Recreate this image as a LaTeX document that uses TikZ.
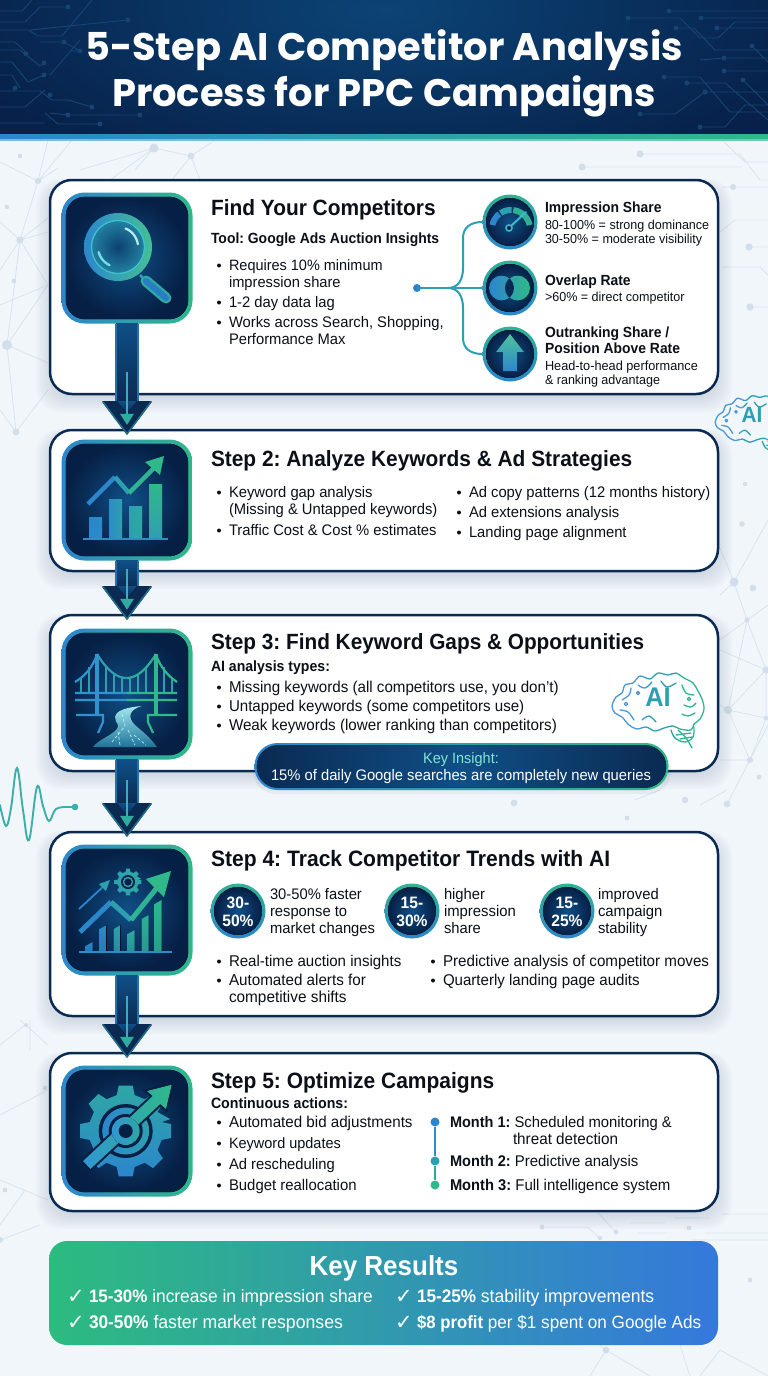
\documentclass[tikz,border=0pt]{standalone}
\usepackage{fontspec}
\setmainfont{Liberation Sans}[FakeStretch=0.965,BoldFeatures={FakeStretch=0.945}]
\newfontfamily\titlefont{Poppins}
\newfontfamily\symfont{DejaVu Sans}
\usetikzlibrary{calc,arrows.meta}
\definecolor{bgc}{HTML}{F1F6FB}
\definecolor{netc}{HTML}{DAE4ED}
\definecolor{netd}{HTML}{D2DEE9}
\definecolor{navy}{HTML}{0A2A52}
\definecolor{deep}{HTML}{061F44}
\definecolor{midb}{HTML}{0F4F86}
\definecolor{ink}{HTML}{0B1018}
\definecolor{bluec}{HTML}{2C86CC}
\definecolor{tealc}{HTML}{2E9FB0}
\definecolor{greenc}{HTML}{2FB88A}
\definecolor{cyanc}{HTML}{45D3E0}
\definecolor{hdrA}{HTML}{0B4476}
\definecolor{hdrB}{HTML}{07214A}
\definecolor{circ}{HTML}{174472}
\definecolor{insight}{HTML}{86E3D6}
\definecolor{wave}{HTML}{3CAFA8}
\definecolor{resA}{HTML}{2DBB7F}
\definecolor{resB}{HTML}{2AA0A8}
\definecolor{resC}{HTML}{3578DC}
\tikzset{
  txt/.style={anchor=base west,inner sep=0pt,outer sep=0pt,text=ink},
  ctxt/.style={anchor=base,inner sep=0pt,outer sep=0pt,text=white},
  card/.style={draw=navy,line width=2.5pt,fill=white,rounded corners=22pt,minimum width=668pt,inner sep=0pt},
  iconbox/.style={rounded corners=23pt,minimum width=131pt,minimum height=131pt,inner sep=0pt,left color=bluec,right color=greenc},
  badge/.style={circle,minimum size=55pt,inner sep=0pt,top color=greenc!80!tealc,bottom color=bluec},
  tree/.style={draw=tealc,line width=2pt},
  nets/.style={draw=netc,line width=.8pt},
  circuit/.style={draw=circ,line width=.9pt},
}
\frenchspacing
\newcounter{tc}
\newcommand\lab[4]{\stepcounter{tc}\node[txt,name=t\arabic{tc},font=\fontsize{#3}{#3}\selectfont] at ({#1},{#2+0.36*#3}) {#4};}
\newcommand\bl[4][15.3]{\fill[ink] ({#2-10},{#3+.5}) circle (2);\lab{#2}{#3}{#1}{#4}}
\newcommand\arcseg[7]{\draw[#6,line width=#7pt] plot[domain=#4:#5,samples=24] ({#1+#3*cos(\x)},{#2-#3*sin(\x)});}
\newcommand\gearpath[5]{(#1,#2) ++({#3*cos(-15)},{#3*sin(-15)}) \foreach \a in {0,45,...,315}{ -- ({#1+#4*cos(\a-#5)},{#2+#4*sin(\a-#5)}) -- ({#1+#3*cos(\a-#5*.62)},{#2+#3*sin(\a-#5*.62)}) -- ({#1+#3*cos(\a+#5*.62)},{#2+#3*sin(\a+#5*.62)}) -- ({#1+#4*cos(\a+#5)},{#2+#4*sin(\a+#5)}) } -- cycle}
\newcommand\shadowbox[4]{\foreach \i in {0,2,...,14}{\fill[navy,opacity=.016,rounded corners=24pt] ({#1-\i},{#2+6-\i*.5}) rectangle ({#3+\i},{#4+4+\i});}}
\newcommand\iconinner[1]{\fill[inner color=midb,outer color=deep,rounded corners=19pt] ([shift={(4.5,4.5)}]#1.north west) rectangle ([shift={(-4.5,-4.5)}]#1.south east);}
\newcommand\flowarrow[3]{%
  \path (#1.south) coordinate (A) (#1.south |- #2.north) ++(0,5) coordinate (T);
  \fill[top color=midb,bottom color=navy] ($(A)+(-11,0)$) rectangle ($(T)+(11,-30)$);
  \draw[draw=bluec!75!navy,line width=1.6pt] ($(A)+(-11,0)$) -- ($(T)+(-11,-31)$) ($(A)+(11,0)$) -- ($(T)+(11,-31)$);
  \draw[fill=navy,draw=navy,line width=1.5pt,line join=round] ($(T)+(-11,-32)$) -- ($(T)+(-24,-32)$) -- (T) -- ($(T)+(24,-32)$) -- ($(T)+(11,-32)$) -- cycle;
  \draw[tealc!60!navy,line width=1.4pt] ($(T)+(-24,-32)$) -- (T) -- ($(T)+(24,-32)$);
  \fill[top color=midb,bottom color=navy] ($(T)+(-10,-33)$) -- ($(T)+(10,-33)$) -- ($(T)+(0,-20)$) -- cycle;
  \draw[tealc!90!white,line width=1.6pt] ($(T)+(0,-#3)$) -- ($(T)+(0,-15)$);
  \fill[greenc!50!tealc] ($(T)+(-7,-20)$) -- ($(T)+(7,-20)$) -- ($(T)+(0,-9)$) -- cycle;
}
\newcommand\brainlines{%
  \draw plot[smooth cycle,tension=.55] coordinates {(-46,4)(-42,-5)(-36,-9)(-33,-17)(-25,-19)(-18,-26)(-8,-23)(0,-29)(10,-27)(18,-29)(26,-24)(35,-19)(40,-11)(44,-3)(46,7)(42,17)(36,22)(33,28)(22,27)(15,24)(6,26)(-3,29)(-12,25)(-21,27)(-29,23)(-36,15)(-43,11)};
  \draw plot[smooth,tension=.5] coordinates {(20,28)(28,36)(34,46)};
  \draw plot[smooth,tension=.6] coordinates {(13,28)(17,36)(27,40)(35,35)(36,25)};
  \draw (18,33)--(33,31) (22,37)--(34,35);
  \draw plot[smooth,tension=.6] coordinates {(-36,-2)(-29,-7)(-27,-14)};
  \draw plot[smooth,tension=.6] coordinates {(-20,-17)(-13,-14)(-6,-20)};
  \draw plot[smooth,tension=.6] coordinates {(3,-21)(9,-15)(18,-19)};
  \draw plot[smooth,tension=.6] coordinates {(24,-17)(28,-9)(36,-7)};
  \draw plot[smooth,tension=.6] coordinates {(-38,8)(-30,10)(-24,18)};
  \draw plot[smooth,tension=.6] coordinates {(-16,18)(-9,14)(-2,20)};
  \draw plot[smooth,tension=.6] coordinates {(26,3)(33,5)(38,1)};
  \draw plot[smooth,tension=.6] coordinates {(24,12)(30,14)(37,11)};
  \draw (-32,2) circle (1.7) (31,-3) circle (1.7) (-20,-9) circle (1.6);
}
\newcommand\brain[3]{%
  \begin{scope}[shift={(#1,#2)},scale=#3,line width=1.3pt,line join=round,line cap=round]
   \begin{scope}\clip (-60,-60) rectangle (-12,60);\begin{scope}[draw=bluec!85!white]\brainlines\end{scope}\end{scope}
   \begin{scope}\clip (-12,-60) rectangle (18,60);\begin{scope}[draw=tealc]\brainlines\end{scope}\end{scope}
   \begin{scope}\clip (18,-60) rectangle (60,60);\begin{scope}[draw=greenc!80!tealc]\brainlines\end{scope}\end{scope}
  \end{scope}}
\begin{document}
\begin{tikzpicture}[x=1pt,y=-1pt,line cap=butt]
\useasboundingbox (0,0) rectangle (768,1376);
\fill[bgc] (0,0) rectangle (768,1376);
% ---------- background network
\begin{scope}[nets]
 \draw (48,140)--(38,181)--(20,240)--(7,345)--(16,432)--(48,390);
 \draw (0,162)--(38,181)--(72,140) (38,181)--(58,168) (0,222)--(20,240)--(48,232) (20,240)--(48,285)--(0,305) (20,240)--(48,218) (7,345)--(48,285) (7,345)--(48,363) (0,410)--(16,432) (0,270)--(20,240);
 \draw (154,148)--(80,170) (154,148)--(191,156) (191,156)--(172,180) (191,156)--(215,140) (191,156)--(200,180) (154,148)--(135,170) (110,180)--(154,148);
 \draw (640,154)--(740,154)--(760,180)--(768,180) (582,167)--(742,167) (722,140)--(745,162)--(768,162) (722,187)--(768,187) (722,267)--(760,267)--(768,275) (749,247)--(768,247) (750,307)--(768,307) (720,232)--(735,220)--(768,220);
 \draw (720,548)--(734,582)--(768,520) (734,582)--(747,620)--(766,670)--(766,718)--(750,760)--(727,804) (720,595)--(734,582) (720,640)--(747,620)--(768,605) (720,650)--(766,670) (747,620)--(728,710) (766,670)--(728,710)--(766,718) (720,705)--(728,710) (720,760)--(750,760)--(728,710) (750,760)--(768,725);
 \draw (700,805)--(727,790) (635,800)--(660,790);
 % lower circuit right
 \draw (542,1227)--(587,1227)--(600,1238) (598,1213)--(616,1232) (629,1223)--(665,1223) (638,1233)--(667,1233) (674,1218)--(710,1218) (705,1233)--(768,1233) (692,1240)--(768,1240) (722,1214)--(768,1214);
 % lower left
 \draw (0,1225)--(25,1190) (0,1240)--(40,1225) (0,1180)--(48,1200) (48,1090)--(0,1115) (20,1020)--(48,1045) (30,1020)--(30,1050) (0,1045)--(25,1025);
 \draw (600,1345)--(606,1350)--(650,1376) (606,1350)--(590,1376) (680,1345)--(690,1376) (720,1350)--(700,1376) (720,1350)--(768,1376);
\end{scope}
\foreach \px/\py/\r in {38/181/3.2,20/240/3.6,7/345/5,16/432/3.4,20/156/2.3,7/207/2.2,14/281/2.3,154/148/4.5,191/156/3.4,640/154/3.5,582/167/3.5,749/247/3.6,750/307/3.6,734/582/4.5,753/588/3.4,747/620/2.6,766/670/3.6,728/710/4.2,766/718/2.4,750/760/3,727/804/3.4,745/484/2.2,742/524/2.8,759/777/2.4,514/803/3.4,685/800/3.2,627/818/2.4,733/187/3,26/1025/2,616/1232/2.4,689/1228/2.4,600/1238/2.2,542/1227/2.4,750/1280/2.4,606/1350/3.4,0/1240/3,45/1088/2.4,5/1190/2.4}{\fill[netd] (\px,\py) circle (\r);}
% waveform
\draw[wave,line width=1.9pt,line cap=round] plot[smooth,tension=.65] coordinates {(0,805)(6,826)(11,808)(17,768)(23,810)(29,840)(37,787)(43,806)(49,821)(56,809)(68,807)};
\fill[wave] (75,807) circle (3.3);
\draw[wave,line width=1.5pt] (66,807)--(75,807);
% side brain
\begin{scope}\clip (700,380) rectangle (768,460);
\brain{752}{419}{.8}
\node[name=sideai,inner sep=0pt,text=tealc,font=\bfseries\fontsize{22}{22}\selectfont] at (752,415) {AI};
\end{scope}
% ---------- header
\begin{scope}
 \clip (0,0) rectangle (768,134);
 \fill[hdrB] (0,0) rectangle (768,134);
 \shade[inner color=hdrA,outer color=hdrB] (-60,-170) rectangle (828,190);
 \begin{scope}[circuit]
  \draw (0,22)--(25,22)--(40,7)--(68,7) (0,11)--(22,11)--(32,0) (30,30)--(128,20) (0,30)--(28,30)--(38,36)--(62,36)--(92,0) (0,42)--(15,42)--(28,54) (0,50)--(20,50)--(40,66)--(44,63) (0,62)--(12,62)--(28,82)--(44,75) (0,75)--(12,75)--(20,88) (40,42)--(64,42)--(80,51) (70,51)--(80,51) (0,91)--(40,91)--(52,100)--(68,100)--(92,107) (0,107)--(25,107)--(45,90) (50,113)--(68,115)--(140,115) (0,123)--(45,123) (45,113)--(58,124)--(100,124) (50,75)--(80,40);
  \draw (768,11)--(669,11) (768,18)--(701,18) (628,18)--(680,18)--(700,38)--(718,38)--(735,22)--(768,22) (676,28)--(694,28)--(715,50)--(768,50) (717,28)--(768,28) (752,46)--(768,62) (700,60)--(724,58) (724,71)--(768,71) (724,58)--(768,58) (664,77)--(700,77)--(730,112)--(768,112) (687,83)--(725,83)--(768,120) (743,80)--(768,105) (705,92)--(768,92) (640,114)--(675,114)--(705,92) (700,127)--(725,127)--(745,105)--(768,105);
 \end{scope}
 \foreach \px/\py in {68/7,128/20,64/42,26/54,44/63,44/75,15/88,92/107,68/115,140/115,100/124,50/95,80/51,669/11,701/18,628/18,717/28,676/28,752/46,724/58,724/71,664/77,687/83,743/80,705/92,640/114,700/127}{\fill[circ] (\px,\py) circle (2.4);}
\end{scope}
\shade[left color=bluec,right color=greenc] (0,134) rectangle (768,139);
\shade[left color=bluec!60!white,right color=greenc!70!white] (0,139) rectangle (768,140.5);
\node[name=title1,anchor=base,inner sep=0pt,text=white,font=\titlefont\bfseries\fontsize{38.4}{38.4}\selectfont] at (384,60) {5-Step AI Competitor Analysis};
\node[name=title2,anchor=base,inner sep=0pt,text=white,font=\titlefont\bfseries\fontsize{38.4}{38.4}\selectfont] at (384,106) {Process for PPC Campaigns};
% ---------- cards
\shadowbox{50}{180}{718}{394}\shadowbox{50}{430}{718}{571}\shadowbox{50}{615}{718}{771}\shadowbox{50}{832}{718}{1016}\shadowbox{50}{1053}{718}{1211}
\node[card,minimum height=214pt] (card1) at (384,287) {};
\node[card,minimum height=141pt] (card2) at (384,500.5) {};
\node[card,minimum height=156pt] (card3) at (384,693) {};
\node[card,minimum height=184pt] (card4) at (384,924) {};
\node[card,minimum height=158pt] (card5) at (384,1132) {};
% ---------- icon boxes
\node[iconbox] (icon1) at (127,258) {};\iconinner{icon1}
\node[iconbox,minimum height=121pt] (icon2) at (127,500) {};\iconinner{icon2}
\node[iconbox] (icon3) at (127,694) {};\iconinner{icon3}
\node[iconbox] (icon4) at (127,910) {};\iconinner{icon4}
\node[iconbox] (icon5) at (127,1131) {};\iconinner{icon5}
% flow arrows
\flowarrow{icon1}{card2}{62}
\flowarrow{icon2}{card3}{50}
\flowarrow{icon3}{card4}{56}
\flowarrow{icon4}{card5}{61}
% icon 1 : magnifier
\draw[line width=2.6pt,tealc] (140,275)--(146,281);
\draw[line width=11pt,line cap=round,tealc!70!greenc] (146,281)--(166,298);
\draw[line width=6pt,line cap=round,bluec!85!midb] (146,281)--(166,298);
\shade[left color=bluec,right color=greenc!90!white] (118,247) circle (34);
\shade[inner color=midb!70!deep,outer color=tealc!60!midb] (118,247) circle (26);
\draw[cyanc!70!tealc,line width=1.2pt] (118,247) circle (26.5);
\arcseg{118}{247}{20}{8}{68}{cyanc!40!white,line cap=round}{2.2}
\arcseg{118}{247}{20}{195}{245}{cyanc!75!white,line cap=round}{2.4}
% icon 2 : bar chart
\fill[left color=bluec,right color=bluec!80!tealc] (89,517) rectangle (102,539);
\fill[left color=bluec!80!tealc,right color=tealc] (109,499) rectangle (122,539);
\fill[left color=tealc,right color=tealc!60!greenc] (129,506) rectangle (142,539);
\fill[top color=greenc,bottom color=tealc] (149,484) rectangle (162,539);
\draw[bluec!70!tealc,line width=2pt] (83,539)--(168,539);
\draw[bluec,line width=4.5pt] (88,504)--(115,477);
\draw[tealc,line width=4.5pt] (115,477)--(129,493);
\draw[greenc!80!tealc,line width=4.5pt] (129,493)--(154,468);
\fill[greenc] (164,456)--(145,462)--(160,475)--cycle;
% icon 3 : bridge
\begin{scope}[line width=2.2pt]
 \foreach \hx in {106,114,122,130,138,146}{\draw[tealc,line width=1.2pt] ({\hx},{678-24*((\hx-126.5)/29.5)^2})--(\hx,693);}
 \foreach \hx/\hy in {81/678,89/667,164/667,172/678}{\draw[tealc,line width=1.2pt] (\hx,\hy)--(\hx,693);}
 \draw[bluec!85!cyanc] (75,682) .. controls (85,676) and (92,668) .. (97,655);
 \draw[tealc] plot[domain=97:126.5,samples=20] (\x,{678-24*((\x-126.5)/29.5)^2});
 \draw[tealc!50!greenc] plot[domain=126.5:156,samples=20] (\x,{678-24*((\x-126.5)/29.5)^2});
 \draw[greenc] (156,655) .. controls (161,668) and (168,676) .. (177,682);
 \draw[bluec!85!cyanc] (75,693)--(127,693) (75,700)--(127,700) (76,715)--(103,715)--(103,722)--(98,733);
 \draw[greenc] (127,693)--(177,693) (127,700)--(177,700) (177,715)--(148,715)--(148,722)--(153,733);
 \draw[bluec!85!cyanc,line width=4.5pt] (97,654)--(97,715);
 \draw[greenc,line width=4.5pt] (156,654)--(156,715);
\end{scope}
\fill[top color=cyanc!50!white,bottom color=tealc!45!midb] (142,706) .. controls (128,707) and (116,710) .. (115,717) .. controls (115,724) and (121,724) .. (116,730) .. controls (110,736) and (98,740) .. (93,747) -- (157,747) .. controls (150,737) and (142,731) .. (135,725) .. controls (128,718) and (128,710) .. (142,706) -- cycle;
\draw[cyanc!40!white,line width=.7pt,dash pattern=on 3pt off 2pt] (122,714)--(125,726)--(112,742) (118,732)--(120,745) (128,730)--(135,745) (134,735)--(146,745);
% icon 4 : trend
\foreach \bx/\bt/\cc in {89/942/bluec,103/925/bluec!85!tealc,117/925/tealc,131/930/tealc!60!greenc,145/915/greenc!70!tealc,158/900/greenc}{\fill[top color=\cc,bottom color=\cc!75!midb] (\bx-3.5,952)--(\bx-3.5,\bt+4)--(\bx+3.5,\bt)--(\bx+3.5,952)--cycle;}
\draw[bluec!70!tealc,line width=2pt] (79,952)--(172,952);
\draw[bluec,line width=1.8pt] (79,909)--(106,884);
\fill[tealc] (110,880)--(99,884)--(106,891)--cycle;
\shade[left color=tealc,right color=tealc!60!greenc] \gearpath{128}{882}{13.5}{10.5}{13};
\fill[deep] (128,882) circle (7);
\draw[tealc,line width=1.4pt] (128,882) circle (4.5);
\draw[bluec,line width=5pt] (80,932)--(111,902);
\draw[tealc,line width=5pt] (111,902)--(131,920);
\draw[greenc!80!tealc,line width=5pt] (131,920)--(160,884);
\fill[greenc] (171,871)--(146,879)--(164,897)--cycle;
% icon 5 : gear
\shade[top color=tealc!70!greenc,bottom color=bluec] \gearpath{125.7}{1131}{46}{37}{14};
\fill[deep] (125.7,1131) circle (27);
\shade[left color=bluec,right color=tealc] (125.7,1131) circle (23.5);
\fill[deep] (125.7,1131) circle (17);
\draw[deep,line width=4pt,line join=miter,fill=none] (83,1161)--(152.7,1096)--(147,1091)--(171.7,1084.7)--(166,1109)--(160.3,1104)--(90.5,1169)--cycle;
\fill[left color=bluec!80!cyanc,right color=greenc] (83,1161)--(152.7,1096)--(147,1091)--(171.7,1084.7)--(166,1109)--(160.3,1104)--(90.5,1169)--cycle;
\fill[left color=bluec!80!cyanc,right color=tealc!70!greenc] (125.7,1131) circle (14);
\fill[deep] (125.7,1131) circle (7);
% ---------- card 1 text
\lab{211}{208}{22.1}{\bfseries Find Your Competitors}
\lab{211}{238}{14.75}{\bfseries Tool: Google Ads Auction Insights}
\bl[15]{229}{265}{Requires 10\% minimum}
\lab{229}{282}{15.2}{impression share}
\bl{229}{302}{1-2 day data lag}
\bl{229}{322}{Works across Search, Shopping,}
\lab{229}{339}{15.3}{Performance Max}
\node[circle,fill=bluec,minimum size=8pt,inner sep=0pt] (hub) at (417,288) {};
\node[badge] (c1) at (510,222) {};
\node[badge] (c2) at (510,288) {};
\node[badge] (c3) at (510,354) {};
\coordinate (split) at (448,288);
\draw[tree] (hub)--(c2);
\draw[tree] (split) .. controls (458,288) and (463,280) .. (463,268) -- (463,238) .. controls (463,228) and (470,222) .. (c1.west);
\draw[tree] (split) .. controls (458,288) and (463,296) .. (463,308) -- (463,338) .. controls (463,348) and (470,354) .. (c3.west);
\foreach \cn/\cy in {c1/222,c2/288,c3/354}{\fill[inner color=midb,outer color=deep] (510,\cy) circle (24);}
% gauge
\arcseg{511}{229}{19}{128}{168}{bluec}{6}
\arcseg{511}{229}{19}{88}{123}{tealc}{6}
\arcseg{511}{229}{19}{12}{83}{greenc!70!tealc}{6}
\draw[cyanc!50!tealc,line width=2pt,line cap=round] (511,226)--(526,212);
\draw[cyanc!50!tealc,line width=1.6pt,fill=deep] (509,228) circle (3);
% venn
\fill[left color=bluec,right color=tealc] (501.5,288) circle (12.5);
\fill[left color=tealc,right color=greenc] (517.5,288) circle (12.5);
\begin{scope}\clip (501.5,288) circle (12.5);\fill[navy] (517.5,288) circle (12.5);\end{scope}
% up arrow
\fill[top color=greenc!85!white,bottom color=bluec] (510,334)--(524,352)--(517,352)--(517,371)--(503,371)--(503,352)--(496,352)--cycle;
\lab{545}{207}{14.7}{\bfseries Impression Share}
\lab{545}{225}{13}{80-100\% = strong dominance}
\lab{545}{239}{13}{30-50\% = moderate visibility}
\lab{545}{280}{14.7}{\bfseries Overlap Rate}
\lab{545}{297}{13}{>60\% = direct competitor}
\lab{545}{332}{14.7}{\bfseries Outranking Share /}
\lab{545}{348}{14.7}{\bfseries Position Above Rate}
\lab{545}{366}{13.2}{Head-to-head performance}
\lab{545}{380}{13}{\& ranking advantage}
% ---------- card 2
\lab{211}{459}{22.1}{\bfseries Step 2: Analyze Keywords \& Ad Strategies}
\bl{229}{492}{Keyword gap analysis}
\lab{229}{509}{15.3}{(Missing \& Untapped keywords)}
\bl{229}{530}{Traffic Cost \& Cost \% estimates}
\bl{469}{492}{Ad copy patterns (12 months history)}
\bl{469}{512}{Ad extensions analysis}
\bl{469}{532}{Landing page alignment}
% ---------- card 3
\lab{211}{642}{22}{\bfseries Step 3: Find Keyword Gaps \& Opportunities}
\lab{211}{666}{14.9}{\bfseries AI analysis types:}
\bl[15.68]{229}{687}{Missing keywords (all competitors use, you don't)}
\bl[15.64]{229}{706}{Untapped keywords (some competitors use)}
\bl[15.73]{229}{725}{Weak keywords (lower ranking than competitors)}
\brain{658}{702}{1}
\node[name=brainai,inner sep=0pt,text=tealc,font=\bfseries\fontsize{27}{27}\selectfont] at (658,697) {AI};
\fill[navy,opacity=.06,rounded corners=23pt] (253,746) rectangle (671,794);
\node[left color=bluec,right color=greenc,rounded corners=23pt,minimum width=414pt,minimum height=47pt,inner sep=0pt] (pill) at (461.5,766.5) {};
\fill[left color=navy,right color=navy,middle color=midb,rounded corners=21pt] ([shift={(2.5,2.5)}]pill.north west) rectangle ([shift={(-2.5,-2.5)}]pill.south east);
\stepcounter{tc}\node[ctxt,name=t\arabic{tc},text=insight,font=\fontsize{15}{15}\selectfont] at (461,763.5) {Key Insight:};
\stepcounter{tc}\node[ctxt,name=t\arabic{tc},font=\fontsize{15.3}{15.3}\selectfont] at (461,780.5) {15\% of daily Google searches are completely new queries};
% ---------- card 4
\lab{211}{858}{22.3}{\bfseries Step 4: Track Competitor Trends with AI}
\foreach \bn/\bx/\la/\lb in {b1/238/30-/50\%,b2/412/15-/30\%,b3/567/15-/25\%}{
 \node[badge] (\bn) at (\bx,911) {};
 \fill[inner color=midb,outer color=deep] (\bx,911) circle (24);
 \stepcounter{tc}\node[ctxt,name=t\arabic{tc},font=\bfseries\fontsize{16.5}{16.5}\selectfont] at (\bx,908) {\la};
 \stepcounter{tc}\node[ctxt,name=t\arabic{tc},font=\bfseries\fontsize{16.5}{16.5}\selectfont] at (\bx,926) {\lb};
}
\lab{270}{894}{15.3}{30-50\% faster}
\lab{270}{911}{15.3}{response to}
\lab{270}{928}{15.3}{market changes}
\lab{444}{894}{15.3}{higher}
\lab{444}{911}{15.4}{impression}
\lab{444}{928}{15.3}{share}
\lab{598}{894}{15.3}{improved}
\lab{598}{911}{15.4}{campaign}
\lab{598}{928}{15.3}{stability}
\bl[15.6]{229}{961}{Real-time auction insights}
\bl[15.75]{229}{980}{Automated alerts for}
\lab{229}{997}{15.9}{competitive shifts}
\bl[15.7]{443}{961}{Predictive analysis of competitor moves}
\bl[15.6]{443}{980}{Quarterly landing page audits}
% ---------- card 5
\lab{211}{1080}{22.2}{\bfseries Step 5: Optimize Campaigns}
\lab{211}{1103}{15}{\bfseries Continuous actions:}
\bl[15.7]{229}{1122}{Automated bid adjustments}
\bl[15]{229}{1143}{Keyword updates}
\bl{229}{1164}{Ad rescheduling}
\bl[15.45]{229}{1185}{Budget reallocation}
\node[circle,fill=bluec,minimum size=9pt,inner sep=0pt] (m1) at (435,1122) {};
\node[circle,fill=tealc,minimum size=9pt,inner sep=0pt] (m2) at (435,1161) {};
\node[circle,fill=greenc,minimum size=9pt,inner sep=0pt] (m3) at (435,1185) {};
\draw[bluec!60!tealc,line width=2pt] (m1)--(m2);
\draw[tealc!60!greenc,line width=2pt] (m2)--(m3);
\lab{450}{1122}{15.35}{\textbf{Month 1:} Scheduled monitoring \&}
\lab{513}{1139}{15.8}{threat detection}
\lab{450}{1161}{15.45}{\textbf{Month 2:} Predictive analysis}
\lab{450}{1185}{15.55}{\textbf{Month 3:} Full intelligence system}
% ---------- key results
\node[left color=resA,middle color=resB,right color=resC,rounded corners=18pt,minimum width=669pt,minimum height=104pt,inner sep=0pt] (results) at (383.5,1293) {};
\stepcounter{tc}\node[ctxt,name=t\arabic{tc},font=\bfseries\fontsize{27.5}{27.5}\selectfont] at (384,1275) {Key Results};
\foreach \rx/\ry/\rs/\rb/\rc in {89/1296/17.95/15-30\%/ increase in impression share,89/1322/18.3/30-50\%/ faster market responses,417/1296/18.15/15-25\%/ stability improvements,417/1322/17.75/\$8 profit/ per \$1 spent on Google Ads}{
 \stepcounter{tc}\node[txt,name=t\arabic{tc},text=white,font=\symfont\fontsize{21}{21}\selectfont] at ({\rx-22},{\ry+7.5}) {✓};
 \stepcounter{tc}\node[txt,name=t\arabic{tc},text=white,font=\fontsize{\rs}{\rs}\selectfont] at (\rx,{\ry+6.5}) {\textbf{\rb}\rc};
}
\end{tikzpicture}
\end{document}
